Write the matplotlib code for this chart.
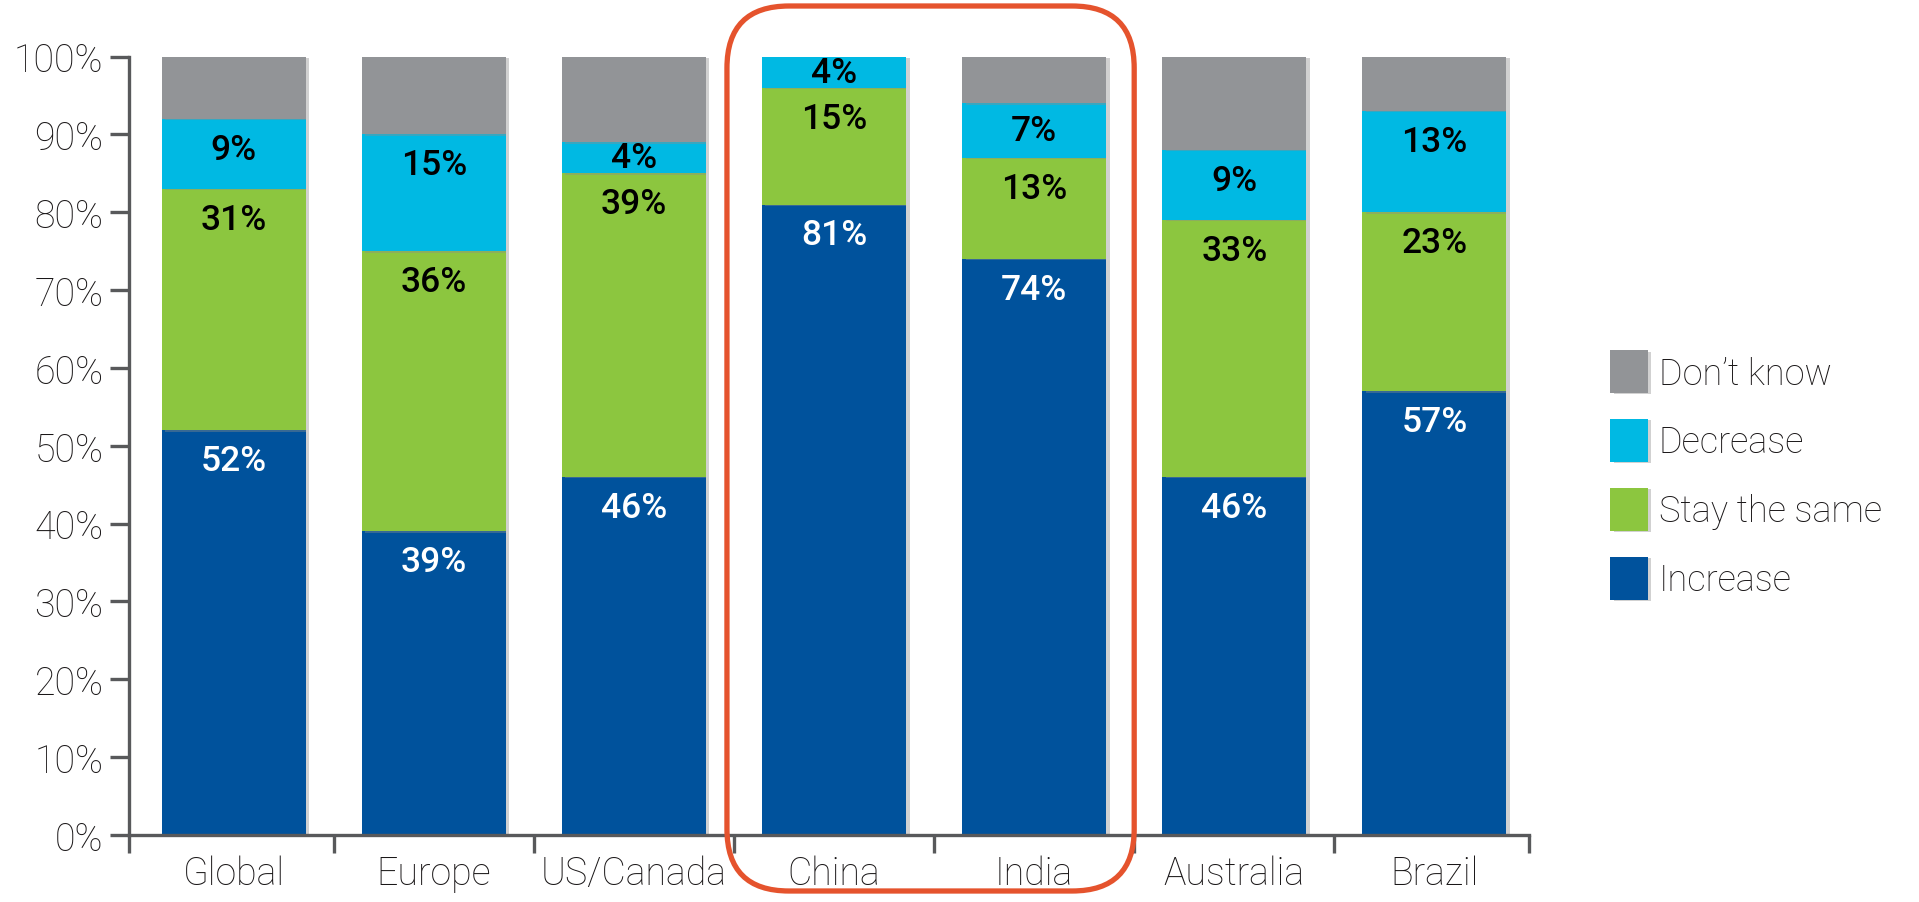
import numpy as np
import matplotlib
matplotlib.use("Agg")
import matplotlib.pyplot as plt
import matplotlib.patheffects as pe
from matplotlib import font_manager
from matplotlib.patches import FancyBboxPatch
from matplotlib.transforms import IdentityTransform

############### Data ###############
regions = ["Global", "Europe", "US/Canada", "China", "India", "Australia", "Brazil"]
increase = [52, 39, 46, 81, 74, 46, 57]
same = [31, 36, 39, 15, 13, 33, 23]
decrease = [9, 15, 4, 4, 7, 9, 13]
dont_know = [100 - a - b - c for a, b, c in zip(increase, same, decrease)]

series = [("Increase", increase, "#00529C", "white"),
          ("Stay the same", same, "#8CC63F", "black"),
          ("Decrease", decrease, "#00B9E3", "black"),
          ("Don\u2019t know", dont_know, "#929497", None)]

############### Style ###############
installed = set(f.name for f in font_manager.fontManager.ttflist)
FONT = next((f for f in ["Roboto", "Lato", "Liberation Sans"] if f in installed), "DejaVu Sans")
plt.rcParams['font.family'] = [FONT, 'DejaVu Sans']
AXIS_GREY = "#58595B"
TEXT = "#1A1718"

fig = plt.figure(figsize=(19.19, 9.03), dpi=100)
ax = fig.add_axes([0.0670, 0.0742, 0.730, 0.862])

x = np.arange(len(regions))
bottom = np.zeros(len(regions))
shadow = [pe.SimplePatchShadow(offset=(2.5, -1), shadow_rgbFace="0.55", alpha=0.4), pe.Normal()]

for name, vals, color, txtcol in series:
    vals = np.array(vals, dtype=float)
    bars = ax.bar(x, vals, bottom=bottom, width=0.72, color=color, label=name,
                  zorder=2)
    for b in bars:
        b.set_path_effects(shadow)
    if txtcol is not None:
        for xi, v, b0 in zip(x, vals, bottom):
            top = b0 + v
            off = min(3.9, v / 2)
            ax.text(xi, top - off, "%d%%" % round(v), ha="center", va="center",
                    color=txtcol, fontsize=25.5, fontweight="medium", zorder=4)
    bottom += vals

############### Axes ###############
xmin, xmax = -0.525, len(regions) - 0.525
ax.set_xlim(xmin, xmax)
ax.set_ylim(0, 100)
ax.set_yticks(np.arange(0, 101, 10))
ax.set_yticklabels(["%d%%" % v for v in range(0, 101, 10)])
ax.set_xticks(x)
ax.set_xticklabels(regions)
ax.set_xticks([xmin] + list(np.arange(0.5, len(regions) - 1, 1)) + [xmax], minor=True)

for s in ["top", "right"]:
    ax.spines[s].set_visible(False)
for s in ["left", "bottom"]:
    ax.spines[s].set_color(AXIS_GREY)
    ax.spines[s].set_linewidth(2.4)
    ax.spines[s].set_zorder(3)
ax.spines["left"].set_bounds(0, 100)

ax.tick_params(axis="y", direction="out", length=14, width=2.4, color=AXIS_GREY,
               labelsize=27, labelcolor=TEXT, pad=4)
ax.tick_params(axis="x", which="major", length=0, labelsize=27, labelcolor=TEXT, pad=14)
ax.tick_params(axis="x", which="minor", direction="out", length=13, width=2.4,
               color=AXIS_GREY)
for t in ax.get_xticklabels() + ax.get_yticklabels():
    t.set_fontweight("light")

############### Legend ###############
handles, labels = ax.get_legend_handles_labels()
leg = fig.legend(handles[::-1], labels[::-1], loc="center left",
                 bbox_to_anchor=(0.839, 0.473), frameon=False, fontsize=26,
                 handlelength=1.05, handleheight=1.45, handletextpad=0.3,
                 labelspacing=0.72, borderpad=0, borderaxespad=0)
for t in leg.get_texts():
    t.set_color(TEXT)
    t.set_fontweight("light")

############### Highlight box ###############
x0 = ax.transData.transform((2.5, 0))[0] - 7
x1 = ax.transData.transform((4.5, 0))[0]
y0, y1 = 11, 896
box = FancyBboxPatch((x0, y0), x1 - x0, y1 - y0,
                     boxstyle="round,pad=0,rounding_size=62",
                     transform=IdentityTransform(), fill=False,
                     edgecolor="#E5532D", linewidth=3.8, zorder=10)
fig.patches.append(box)

fig.savefig("out.png", dpi=100)
